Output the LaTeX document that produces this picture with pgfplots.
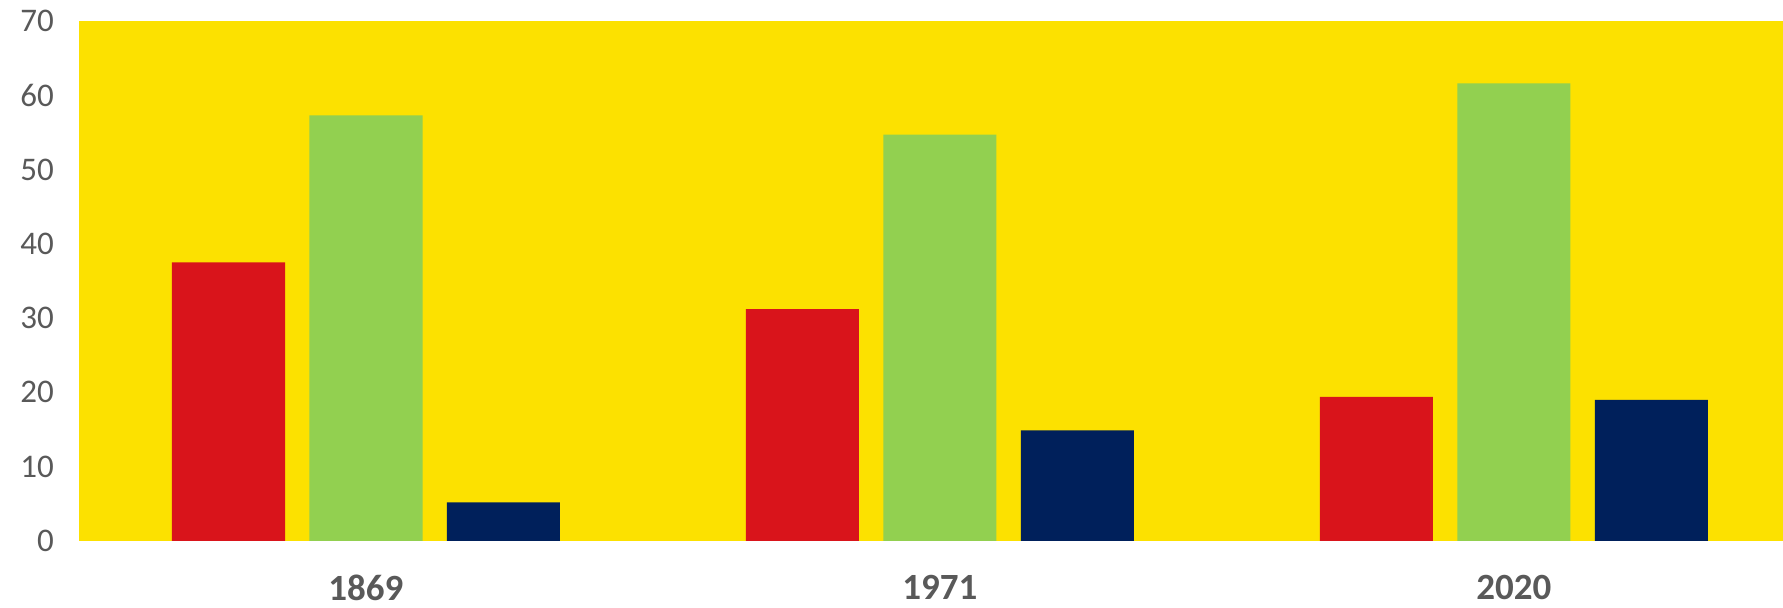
\documentclass[border=0pt]{standalone}
\usepackage{pgfplots}
\pgfplotsset{compat=1.18}
\usepackage{fontspec}
\setmainfont{Carlito}
\definecolor{bgyellow}{HTML}{FCE100}
\definecolor{cred}{HTML}{D9141B}
\definecolor{cgreen}{HTML}{92D050}
\definecolor{cnavy}{HTML}{00205B}
\definecolor{lblgray}{HTML}{595959}
\begin{document}
\begin{tikzpicture}
\path (0,0) rectangle (891.5pt,304pt);
\begin{axis}[
  at={(39.5pt,33.5pt)}, anchor=south west,
  scale only axis,
  width=852pt, height=260pt,
  xmin=-0.5, xmax=2.4686,
  ymin=0, ymax=70,
  ytick={0,10,...,70},
  xtick={0,1,2},
  xticklabels={1869,1971,2020},
  axis line style={draw=none},
  major tick length=0pt,
  axis background/.style={fill=bgyellow},
  /pgf/number format/assume math mode=true,
  y tick label style={font=\fontsize{16.5}{20}\selectfont, text=lblgray, xshift=-9pt},
  x tick label style={font=\fontsize{18.5}{22}\selectfont\bfseries, text=lblgray, yshift=-13.7pt},
  clip=false,
]
\addplot[ybar, bar width=0.197, bar shift=-0.2395, fill=cred, draw=none] coordinates {(0,37.5) (1,31.2) (2,19.4)};
\addplot[ybar, bar width=0.197, bar shift=0, fill=cgreen, draw=none] coordinates {(0,57.3) (1,54.7) (2,61.6)};
\addplot[ybar, bar width=0.197, bar shift=0.2395, fill=cnavy, draw=none] coordinates {(0,5.2) (1,14.9) (2,19.0)};
\end{axis}
\end{tikzpicture}
\end{document}
